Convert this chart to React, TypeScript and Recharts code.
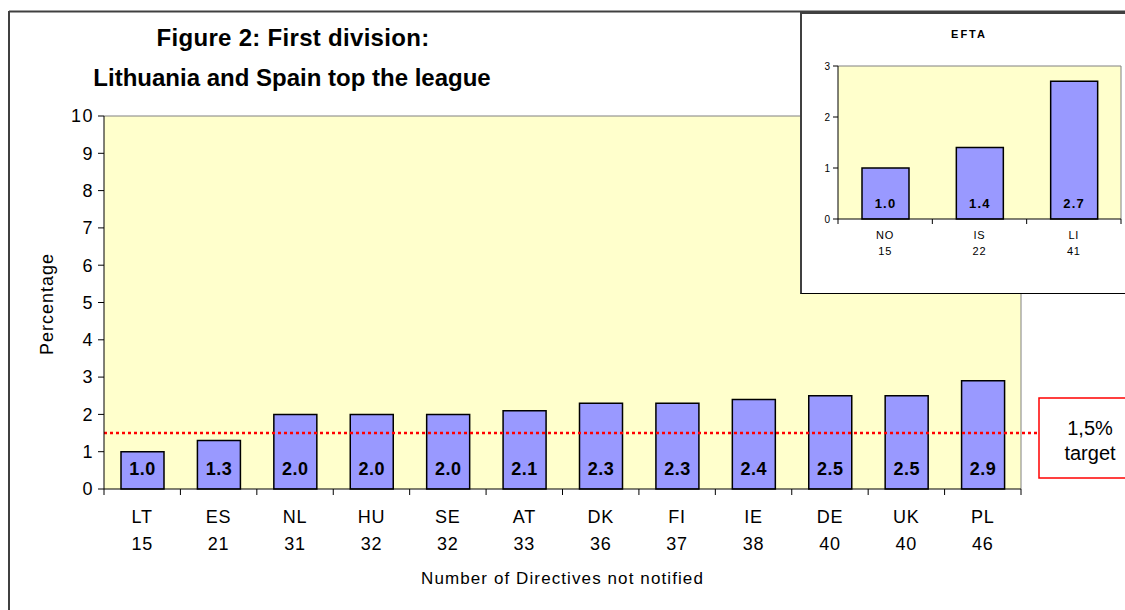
import {
  BarChart,
  Bar,
  XAxis,
  YAxis,
  CartesianGrid,
  ReferenceLine,
  LabelList,
} from "recharts";

const countries = ["LT", "ES", "NL", "HU", "SE", "AT", "DK", "FI", "IE", "DE", "UK", "PL"];
const notNotified = [15, 21, 31, 32, 32, 33, 36, 37, 38, 40, 40, 46];
const percentages = [1.0, 1.3, 2.0, 2.0, 2.0, 2.1, 2.3, 2.3, 2.4, 2.5, 2.5, 2.9];
const yTicks = [0, 1, 2, 3, 4, 5, 6, 7, 8, 9, 10];

const eftaCountries = ["NO", "IS", "LI"];
const eftaNotNotified = [15, 22, 41];
const eftaPercentages = [1.0, 1.4, 2.7];
const eftaTicks = [0, 1, 2, 3];

const TARGET = 1.5;

const FONT = '"Liberation Sans", Arial, sans-serif';
const BAR_FILL = "#9999ff";
const PLOT_BG = "#ffffcc";

const mainData = countries.map((c, i) => ({
  country: c,
  count: notNotified[i],
  pct: percentages[i],
}));

const eftaData = eftaCountries.map((c, i) => ({
  country: c,
  count: eftaNotNotified[i],
  pct: eftaPercentages[i],
}));

// main plot: 917 px wide, 12 bands
const MAIN_HALF = 917 / countries.length / 2;
const EFTA_HALF = 283 / eftaCountries.length / 2;

const CategoryTick = (props: any) => {
  const { x, y, payload, counts, half, last, fontSize, spacing, dy1, dy2, tickLen } = props;
  const i = payload.index;
  return (
    <g>
      <line x1={x - half} y1={y} x2={x - half} y2={y + tickLen} stroke="#000" />
      {i === last && (
        <line x1={x + half} y1={y} x2={x + half} y2={y + tickLen} stroke="#000" />
      )}
      <text x={x} y={y + dy1} textAnchor="middle" fontSize={fontSize} letterSpacing={spacing} fontFamily={FONT} fill="#000">
        {payload.value}
      </text>
      <text x={x} y={y + dy2} textAnchor="middle" fontSize={fontSize} letterSpacing={spacing} fontFamily={FONT} fill="#000">
        {counts[i]}
      </text>
    </g>
  );
};

const barValueLabel = (fontSize: number, lift: number, spacing: number) => (p: any) => {
  const { x, y, width, height, value } = p;
  return (
    <text
      x={Number(x) + Number(width) / 2}
      y={Number(y) + Number(height) - lift}
      textAnchor="middle"
      fontSize={fontSize}
      fontWeight="bold"
      fontFamily={FONT}
      letterSpacing={spacing}
      fill="#000"
    >
      {Number(value).toFixed(1)}
    </text>
  );
};

const targetLine = (p: any) => {
  const x1 = Math.min(p.x1, p.x2);
  const x2 = Math.max(p.x1, p.x2);
  return (
    <line
      x1={x1}
      y1={p.y1}
      x2={x2 + 18}
      y2={p.y2}
      stroke="#ff0000"
      strokeWidth={2.5}
      strokeDasharray="3 3"
    />
  );
};

const EftaInset = () => (
  <div
    style={{
      position: "absolute",
      left: 800,
      top: 12,
      width: 330,
      height: 279,
      background: "#fff",
      borderLeft: "2px solid #404040",
      borderTop: "2px solid #404040",
      borderBottom: "1px solid #000",
    }}
  >
    <div
      style={{
        position: "absolute",
        left: 0,
        top: 14,
        width: 334,
        textAlign: "center",
        fontFamily: FONT,
        fontWeight: "bold",
        fontSize: 11,
        letterSpacing: 2,
      }}
    >
      EFTA
    </div>
    <BarChart
      width={323}
      height={279}
      data={eftaData}
      margin={{ top: 52, right: 4, bottom: 14, left: 0 }}
      barSize={47}
    >
      <CartesianGrid fill={PLOT_BG} horizontal={false} vertical={false} />
      <ReferenceLine y={3} stroke="#808080" />
      <ReferenceLine x="LI" position="end" stroke="#808080" />
      <XAxis
        dataKey="country"
        interval={0}
        height={60}
        tickLine={false}
        tickSize={0}
        tickMargin={0}
        axisLine={{ stroke: "#000" }}
        tick={
          <CategoryTick
            counts={eftaNotNotified}
            half={EFTA_HALF}
            last={eftaCountries.length - 1}
            fontSize={11}
            spacing={0.8}
            dy1={20}
            dy2={36}
            tickLen={5}
          />
        }
      />
      <YAxis
        domain={[0, 3]}
        ticks={eftaTicks}
        width={36}
        tickSize={5}
        tickMargin={3}
        interval={0}
        axisLine={{ stroke: "#000" }}
        tickLine={{ stroke: "#000" }}
        tick={{ fontSize: 10, fill: "#000", fontFamily: FONT }}
      />
      <Bar dataKey="pct" fill={BAR_FILL} stroke="#000" strokeWidth={1.5} isAnimationActive={false}>
        <LabelList dataKey="pct" content={barValueLabel(13, 11, 1.2)} />
      </Bar>
    </BarChart>
  </div>
);

export default function App() {
  return (
    <div
      style={{
        position: "absolute",
        left: 0,
        top: 0,
        width: 1125,
        height: 610,
        overflow: "hidden",
        background: "#fff",
        fontFamily: FONT,
      }}
    >
      <div style={{ position: "absolute", left: 0, top: 0 }}>
        <BarChart
          width={1125}
          height={610}
          data={mainData}
          margin={{ top: 116, right: 104, bottom: 21, left: 20 }}
          barSize={43}
        >
          <CartesianGrid fill={PLOT_BG} horizontal={false} vertical={false} />
          <ReferenceLine y={10} stroke="#808080" />
          <ReferenceLine x="PL" position="end" stroke="#808080" />
          <XAxis
            dataKey="country"
            interval={0}
            height={100}
            tickLine={false}
            tickSize={0}
            tickMargin={0}
            axisLine={{ stroke: "#000" }}
            tick={
              <CategoryTick
                counts={notNotified}
                half={MAIN_HALF}
                last={countries.length - 1}
                fontSize={18}
                spacing={0.8}
                dy1={34}
                dy2={61}
                tickLen={6}
              />
            }
            label={{
              value: "Number of Directives not notified",
              position: "insideBottom",
              offset: 5,
              fontSize: 17,
              letterSpacing: 1.1,
              fill: "#000",
              fontFamily: FONT,
            }}
          />
          <YAxis
            domain={[0, 10]}
            ticks={yTicks}
            interval={0}
            width={84}
            tickSize={6}
            tickMargin={4}
            axisLine={{ stroke: "#000" }}
            tickLine={{ stroke: "#000" }}
            tick={{ fontSize: 18, letterSpacing: 1.5, fill: "#000", fontFamily: FONT }}
            label={{
              content: () => (
                <text
                  x={53}
                  y={304}
                  transform="rotate(-90 53 304)"
                  textAnchor="middle"
                  fontSize={18}
                  letterSpacing={1}
                  fontFamily={FONT}
                  fill="#000"
                >
                  Percentage
                </text>
              ),
            }}
          />
          <Bar dataKey="pct" fill={BAR_FILL} stroke="#000" strokeWidth={1.5} isAnimationActive={false}>
            <LabelList dataKey="pct" content={barValueLabel(18, 14, 0.5)} />
          </Bar>
          <ReferenceLine y={TARGET} shape={targetLine} />
        </BarChart>
      </div>

      <svg
        width={1125}
        height={610}
        style={{ position: "absolute", left: 0, top: 0, pointerEvents: "none" }}
      >
        <line x1={9} y1={11.5} x2={1125} y2={11.5} stroke="#404040" strokeWidth={2} />
        <line x1={9} y1={11} x2={9} y2={610} stroke="#404040" strokeWidth={2} />
        <text x={293} y={46} textAnchor="middle" fontSize={24} fontWeight="bold" letterSpacing={0.3} fontFamily={FONT}>
          Figure 2: First division:
        </text>
        <text x={292} y={86} textAnchor="middle" fontSize={24} fontWeight="bold" fontFamily={FONT}>
          Lithuania and Spain top the league
        </text>
        <rect x={1039} y={398} width={120} height={80} fill="#fff" stroke="#ff0000" strokeWidth={1.5} />
        <text x={1090} y={435} textAnchor="middle" fontSize={20} fontFamily={FONT}>
          1,5%
        </text>
        <text x={1090} y={460} textAnchor="middle" fontSize={20} fontFamily={FONT}>
          target
        </text>
      </svg>

      <EftaInset />
    </div>
  );
}
